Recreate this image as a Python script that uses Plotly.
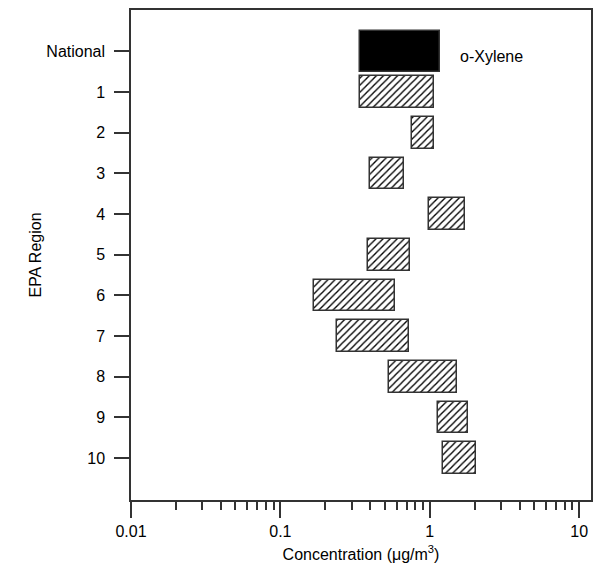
import plotly.graph_objects as go

# EPA region ranges of o-Xylene concentration (µg/m³): low and high ends
national = ["National"]
national_low = [0.339]
national_high = [1.175]

regions = ["1", "2", "3", "4", "5", "6", "7", "8", "9", "10"]
region_low = [0.339, 0.760, 0.395, 0.993, 0.383, 0.167, 0.238, 0.530, 1.128, 1.218]
region_high = [1.060, 1.065, 0.677, 1.709, 0.737, 0.585, 0.726, 1.521, 1.802, 2.026]

categories = national + regions
x_tickvals = [0.01, 0.1, 1, 10]
x_ticktext = ["0.01", "0.1", "1", "10"]

FONT = "Liberation Sans, Arial, sans-serif"
LINE = "#333333"
FS = 16

fig = go.Figure()

fig.add_trace(go.Bar(
    y=national,
    x=[h - l for l, h in zip(national_low, national_high)],
    base=national_low,
    orientation="h",
    width=1.02,
    marker=dict(color="black", line=dict(color=LINE, width=1.5)),
    showlegend=False,
))

fig.add_trace(go.Bar(
    y=regions,
    x=[h - l for l, h in zip(region_low, region_high)],
    base=region_low,
    orientation="h",
    width=0.78,
    marker=dict(
        color="white",
        line=dict(color=LINE, width=1.5),
        pattern=dict(shape="/", fgcolor="black", bgcolor="white",
                     size=5, solidity=0.27, fgopacity=1),
    ),
    showlegend=False,
))

fig.add_annotation(
    x=0.186, y="National", yshift=-5,
    text="o-Xylene", showarrow=False,
    xanchor="left", yanchor="middle",
    font=dict(family=FONT, size=FS, color="black"),
)

fig.update_layout(
    width=601, height=569,
    margin=dict(l=131, r=10, t=8, b=68),
    plot_bgcolor="white", paper_bgcolor="white",
    bargap=0,
    font=dict(family=FONT, size=FS, color="black"),
)

fig.update_xaxes(
    type="log",
    range=[-2, 1.079],
    tickvals=x_tickvals, ticktext=x_ticktext,
    ticks="outside", ticklen=16, tickwidth=1.5, tickcolor=LINE,
    minor=dict(ticks="outside", ticklen=8, tickwidth=1.5, tickcolor=LINE,
               dtick="D1", showgrid=False),
    showline=True, linecolor=LINE, linewidth=1.5, mirror=True,
    showgrid=False, zeroline=False,
    title=dict(text="Concentration (μg/m<sup>3</sup>)", standoff=10,
               font=dict(family=FONT, size=FS)),
    tickfont=dict(family=FONT, size=FS),
)

fig.update_yaxes(
    type="category",
    categoryorder="array", categoryarray=categories,
    range=[11.03, -1.02],
    ticks="outside", ticklen=15, tickwidth=1.5, tickcolor=LINE,
    showline=True, linecolor=LINE, linewidth=1.5, mirror=True,
    showgrid=False, zeroline=False,
    ticklabelstandoff=6,
    title=dict(text="EPA Region", standoff=1, font=dict(family=FONT, size=FS)),
    tickfont=dict(family=FONT, size=FS),
)

fig.write_html("out.html")
